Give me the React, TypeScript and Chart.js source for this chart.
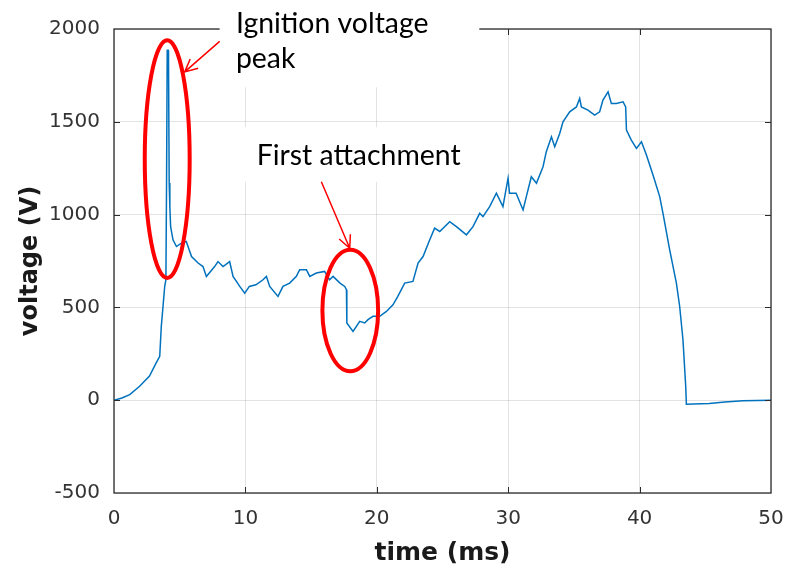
import React, { useEffect, useRef } from "react";
import { Chart, registerables } from "chart.js";
Chart.register(...registerables);

const timeMs = [
  0, 0.6, 1.2, 1.95, 2.7, 3.2, 3.48, 3.6, 3.73, 3.86, 3.95, 4.0, 4.05, 4.12, 4.15, 4.2, 4.25, 4.31, 4.49, 4.75,
  5.13, 5.5, 5.9, 6.4, 6.77, 7.03, 7.66, 7.91, 8.3, 8.8, 9.06, 9.57, 9.95, 10.3, 10.8, 11.34, 11.6, 11.85, 12.48, 12.86,
  13.37, 13.88, 14.13, 14.64, 14.9, 15.4, 16.03, 16.4, 16.67, 17.2, 17.56, 17.69, 17.72, 18.19, 18.7, 19.08, 19.33, 19.71, 20.22, 20.73,
  21.23, 21.6, 22.12, 22.75, 23.14, 23.52, 24.03, 24.4, 24.79, 25.55, 26.06, 26.82, 27.32, 27.83, 28.08, 28.59, 29.1, 29.6, 29.99, 30.1,
  30.6, 31.13, 31.38, 31.76, 32.15, 32.65, 32.9, 33.29, 33.54, 33.92, 34.17, 34.68, 35.19, 35.44, 35.57, 36.07, 36.58, 36.96, 37.21, 37.6,
  37.85, 38.23, 38.74, 38.94, 39.0, 39.37, 39.76, 40.14, 40.52, 41.02, 41.53, 41.78, 42.29, 42.8, 43.05, 43.3, 43.51, 43.56, 45.3, 46.5,
  47.87, 50,
];
const voltageV = [
  0, 12, 30, 75, 130, 200, 236, 398, 505, 613, 650, 1170, 1885, 1885, 1822, 1170, 1043, 935, 864, 828,
  846, 855, 774, 739, 720, 667, 720, 747, 720, 747, 667, 613, 577, 613, 622, 649, 667, 613, 559, 613,
  631, 667, 703, 703, 667, 685, 694, 649, 667, 631, 613, 595, 416, 371, 425, 416, 434, 452, 452, 478,
  514, 559, 631, 640, 739, 774, 864, 927, 909, 962, 935, 891, 935, 1007, 989, 1043, 1115, 1043, 1196, 1115,
  1115, 1025, 1097, 1204, 1169, 1258, 1339, 1419, 1365, 1437, 1500, 1554, 1580, 1626, 1580, 1563, 1536, 1554, 1617, 1661,
  1599, 1599, 1608, 1580, 1455, 1401, 1357, 1392, 1321, 1213, 1097, 1007, 810, 631, 505, 326, 75, -22, -18, -10,
  -3, 0,
];

const xTickValues = [0, 10, 20, 30, 40, 50];
const yTickValues = [-500, 0, 500, 1000, 1500, 2000];

const xTitle = "time (ms)";
const yTitle = "voltage (V)";

// annotation texts
const ignitionLines = ["Ignition voltage", "peak"];
const attachText = "First attachment";

function buildAnnotationPlugin() {
  return {
    id: "annot",
    afterDraw(chart: any) {
      const { ctx, chartArea, scales } = chart;
      const xs = scales.x;
      const ys = scales.y;
      const X = (v: number) => xs.getPixelForValue(v);
      const Y = (v: number) => ys.getPixelForValue(v);
      const { left, right, top, bottom } = chartArea;
      ctx.save();
      // frame
      ctx.strokeStyle = "#2b2b2b";
      ctx.lineWidth = 1.3;
      ctx.strokeRect(left, top, right - left, bottom - top);
      // inward ticks
      ctx.lineWidth = 1;
      ctx.beginPath();
      const tl = 6;
      xTickValues.slice(1, -1).forEach((v) => {
        const px = Math.round(X(v)) + 0.5;
        ctx.moveTo(px, bottom);
        ctx.lineTo(px, bottom - tl);
        ctx.moveTo(px, top);
        ctx.lineTo(px, top + tl);
      });
      yTickValues.slice(1, -1).forEach((v) => {
        const py = Math.round(Y(v)) + 0.5;
        ctx.moveTo(left, py);
        ctx.lineTo(left + tl, py);
        ctx.moveTo(right, py);
        ctx.lineTo(right - tl, py);
      });
      ctx.stroke();

      // white boxes behind annotation text
      ctx.fillStyle = "#ffffff";
      ctx.fillRect(X(8.04), 0, X(27.8) - X(8.04), Y(1686));
      ctx.fillRect(X(9.58), Y(1471), X(27.07) - X(9.58), Y(1177) - Y(1471));

      // text
      ctx.fillStyle = "#000000";
      ctx.textAlign = "left";
      ctx.textBaseline = "alphabetic";
      let size = 28;
      ctx.font = `${size}px Lato`;
      const w = ctx.measureText(attachText).width;
      size = (size * 204) / w;
      ctx.font = `${size}px Lato`;
      ctx.fillText(ignitionLines[0], X(9.28), Y(1976));
      ctx.fillText(ignitionLines[1], X(9.28), Y(1788));
      ctx.fillText(attachText, X(10.86), Y(1267));

      // ellipses
      ctx.strokeStyle = "#ff0000";
      ctx.lineWidth = 4;
      const ell = (ct: number, cv: number, rt: number, rv: number) => {
        ctx.beginPath();
        ctx.ellipse(X(ct), Y(cv), X(ct + rt) - X(ct), Y(cv) - Y(cv + rv), 0, 0, Math.PI * 2);
        ctx.stroke();
      };
      ell(4.05, 1299, 1.71, 640);
      ell(17.98, 483, 2.12, 327);

      // arrows
      ctx.lineWidth = 1.5;
      const arrow = (t0: number, v0: number, t1: number, v1: number) => {
        const x0 = X(t0), y0 = Y(v0), x1 = X(t1), y1 = Y(v1);
        const a = Math.atan2(y1 - y0, x1 - x0);
        const hl = 14;
        const ha = 0.45;
        ctx.beginPath();
        ctx.moveTo(x0, y0);
        ctx.lineTo(x1, y1);
        ctx.moveTo(x1 - hl * Math.cos(a - ha), y1 - hl * Math.sin(a - ha));
        ctx.lineTo(x1, y1);
        ctx.lineTo(x1 - hl * Math.cos(a + ha), y1 - hl * Math.sin(a + ha));
        ctx.stroke();
      };
      arrow(8.04, 1933, 5.38, 1769);
      arrow(15.78, 1177, 17.94, 819);
      ctx.restore();
    },
  };
}

export default function App() {
  const ref = useRef<HTMLCanvasElement | null>(null);
  useEffect(() => {
    if (!ref.current) return;
    const data = timeMs.map((t, i) => ({ x: t, y: voltageV[i] }));
    const chart = new Chart(ref.current, {
      type: "line",
      data: {
        datasets: [
          {
            data,
            borderColor: "#0072BD",
            borderWidth: 1.5,
            pointRadius: 0,
            tension: 0,
            fill: false,
          },
        ],
      },
      options: {
        animation: false,
        responsive: false,
        maintainAspectRatio: false,
        layout: { padding: { top: 29, right: 16, left: 0, bottom: 0 } },
        plugins: { legend: { display: false }, tooltip: { enabled: false } },
        scales: {
          x: {
            type: "linear",
            min: 0,
            max: 50,
            afterBuildTicks: (s: any) => {
              s.ticks = xTickValues.map((v) => ({ value: v }));
            },
            afterFit: (s: any) => {
              s.height = 77;
              s.paddingLeft = 0;
              s.paddingRight = 0;
            },
            grid: { color: "rgba(0,0,0,0.11)", drawTicks: false },
            border: { display: false },
            ticks: {
              padding: 14,
              color: "#333333",
              font: { family: "DejaVu Sans", size: 20 },
              maxRotation: 0,
              callback: (v: any) => String(v),
            },
            title: {
              display: true,
              text: xTitle,
              color: "#1a1a1a",
              font: { family: "DejaVu Sans", size: 25, weight: "bold" },
              padding: { top: 0, bottom: 2 },
            },
          },
          y: {
            type: "linear",
            min: -500,
            max: 2000,
            afterBuildTicks: (s: any) => {
              s.ticks = yTickValues.map((v) => ({ value: v }));
            },
            afterFit: (s: any) => {
              s.width = 114;
              s.paddingTop = 0;
              s.paddingBottom = 0;
            },
            grid: { color: "rgba(0,0,0,0.11)", drawTicks: false },
            border: { display: false },
            ticks: {
              padding: 14,
              color: "#333333",
              font: { family: "DejaVu Sans", size: 20 },
              callback: (v: any) => String(v),
            },
            title: {
              display: true,
              text: yTitle,
              color: "#1a1a1a",
              font: { family: "DejaVu Sans", size: 24, weight: "bold" },
              padding: { top: 16, bottom: 0 },
            },
          },
        },
      },
      plugins: [buildAnnotationPlugin()],
    } as any);
    return () => chart.destroy();
  }, []);
  return (
    <div style={{ position: "fixed", left: 0, top: 0, width: 787, height: 570, background: "#fff" }}>
      <canvas ref={ref} width={787} height={570} style={{ width: 787, height: 570 }} />
    </div>
  );
}
